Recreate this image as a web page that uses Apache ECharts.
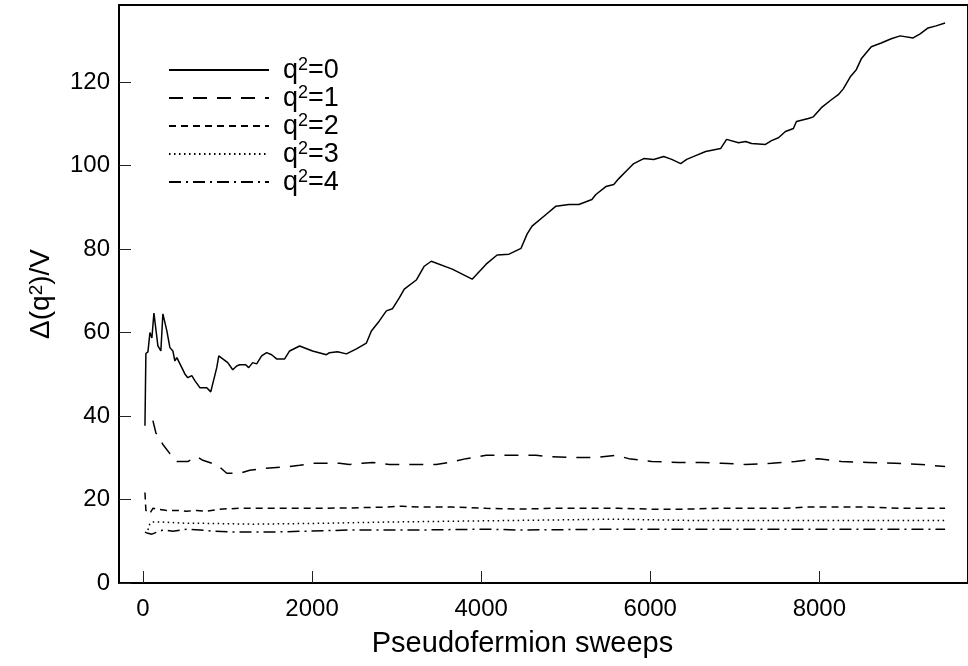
<!DOCTYPE html>
<html>
<head>
<meta charset="utf-8">
<script src="https://cdn.jsdelivr.net/npm/echarts@6/dist/echarts.min.js"></script>
<style>html,body{margin:0;padding:0;background:#fff}#c{width:968px;height:666px}</style>
</head>
<body>
<div id="c"></div>
<script>
const seriesNames = ['q²=0', 'q²=1', 'q²=2', 'q²=3', 'q²=4'];
const xTicks = [0, 2000, 4000, 6000, 8000];
const yTicks = [0, 20, 40, 60, 80, 100, 120];

const q0 = [[24,37.7],[35,55],[59,55.4],[83,60],[106,58.7],[130,64.7],[177,56.8],[212,55.6],[236,64.5],[283,60.4],[319,56.4],[354,55.6],[378,53.2],[401,54],[460,51.6],[496,50.1],[531,49.2],[578,49.7],[614,48.5],[673,46.8],[755,46.8],[802,45.8],[873,51.6],[897,54.4],[944,53.7],[1003,52.8],[1062,51.1],[1109,52],[1145,52.3],[1215,52.3],[1251,51.6],[1298,52.8],[1345,52.5],[1404,54.4],[1463,55.2],[1522,54.7],[1581,53.7],[1676,53.7],[1735,55.6],[1853,56.8],[2006,55.6],[2171,54.7],[2206,55.2],[2301,55.4],[2407,54.9],[2525,56.1],[2643,57.5],[2702,60.4],[2796,62.8],[2879,65.2],[2950,65.7],[3032,68.3],[3091,70.4],[3233,72.6],[3327,75.9],[3410,77.1],[3658,75.2],[3894,72.8],[4059,76.4],[4189,78.6],[4330,78.8],[4472,80.2],[4543,83.6],[4602,85.5],[4767,88.3],[4885,90.3],[5038,90.7],[5156,90.7],[5310,91.9],[5357,93.1],[5475,95],[5569,95.5],[5628,96.9],[5711,98.6],[5805,100.5],[5923,101.7],[6041,101.5],[6159,102.2],[6254,101.5],[6360,100.5],[6431,101.5],[6537,102.4],[6655,103.4],[6773,103.9],[6832,104.1],[6903,106.3],[7044,105.5],[7127,105.8],[7198,105.3],[7363,105.1],[7434,106],[7516,106.7],[7599,108.2],[7693,108.9],[7729,110.6],[7870,111.3],[7929,111.7],[8024,113.9],[8142,115.8],[8224,117],[8283,118.4],[8366,121.3],[8437,123],[8496,125.6],[8614,128.5],[8732,129.4],[8850,130.4],[8956,131.1],[9109,130.6],[9192,131.6],[9286,133],[9381,133.5],[9487,134.2]];

const q1 = [[118,38.9],[153,36],[236,33.2],[319,31],[401,29.1],[531,29.1],[637,30.3],[708,29.4],[885,28.2],[991,26.3],[1145,26.3],[1263,27],[1440,27.5],[1581,27.7],[1735,27.9],[1853,28.2],[2006,28.7],[2171,28.7],[2324,28.7],[2442,28.4],[2596,28.7],[2714,28.9],[2914,28.4],[3233,28.4],[3469,28.4],[3622,28.9],[3823,29.8],[4059,30.6],[4366,30.6],[4649,30.6],[4767,30.3],[5038,30.1],[5357,30.1],[5593,30.6],[5746,29.8],[6018,29.1],[6336,28.9],[6608,28.9],[6844,28.7],[7127,28.4],[7434,28.7],[7717,29.1],[7988,29.8],[8260,29.1],[8578,28.9],[8897,28.7],[9204,28.4],[9487,27.9]];

const q2 = [[24,21.7],[35,17.4],[83,16.7],[118,17.9],[177,17.7],[283,17.4],[401,17.4],[519,17.2],[637,17.4],[755,17.2],[909,17.7],[1145,17.9],[1499,17.9],[1817,17.9],[2088,17.9],[2478,18],[2879,18.2],[3068,18.4],[3268,18.2],[3658,18.2],[4059,17.9],[4448,17.7],[4838,17.9],[5239,17.9],[5628,17.9],[6018,17.7],[6419,17.7],[6808,17.9],[7198,17.9],[7599,17.9],[7870,18.2],[8189,18.2],[8578,18.2],[8968,17.9],[9487,17.9]];

const q3 = [[59,12.7],[83,14.3],[118,14.6],[236,14.6],[519,14.3],[708,14.3],[1298,14.1],[2088,14.3],[2879,14.6],[3658,14.8],[4448,15],[5593,15.3],[6419,15],[7599,15],[8378,15],[9487,15]];

const q4 = [[24,12.2],[59,11.9],[106,11.7],[165,12.2],[236,12.7],[354,12.4],[519,12.9],[673,12.7],[826,12.4],[1109,12.2],[1499,12.2],[1888,12.4],[2478,12.7],[3268,12.7],[4059,12.9],[4448,12.7],[5628,12.9],[6808,12.9],[7988,12.9],[9487,12.9]];

const dataSets = [q0, q1, q2, q3, q4];
const dashTypes = ['solid', [14, 10], [7, 5], [1.5, 3.5], [12, 5, 2, 5]];

const FONT = 'Liberation Sans, Arial, Helvetica, sans-serif';
const chart = echarts.init(document.getElementById('c'), null, {renderer: 'canvas'});

function supRich(big, small, lh, raise) {
  return {
    a: {fontSize: big, fontFamily: FONT, color: '#000', lineHeight: lh, verticalAlign: 'bottom'},
    s: {fontSize: small, fontFamily: FONT, color: '#000', lineHeight: small, verticalAlign: 'top', padding: [0, 0, raise, 0]}
  };
}

const option = {
  backgroundColor: '#ffffff',
  animation: false,
  textStyle: {fontFamily: FONT, color: '#000'},
  grid: {left: 119, right: -3, top: 5, bottom: 83, show: true, borderColor: '#000', borderWidth: 2, backgroundColor: 'transparent'},
  legend: {
    orient: 'vertical',
    left: 168,
    top: 56,
    itemWidth: 100,
    itemHeight: 14,
    itemGap: 0,
    padding: 0,
    data: seriesNames,
    itemStyle: {opacity: 0},
    formatter: function (n) {
      const parts = n.split('²');
      return '{a|' + parts[0] + '}{s|2}{a|' + parts[1] + '}';
    },
    textStyle: {
      fontFamily: FONT,
      color: '#000',
      padding: [0, 0, 0, 9],
      rich: supRich(27, 18, 28, 9)
    }
  },
  xAxis: {
    type: 'value',
    min: -283,
    max: 9758,
    name: 'Pseudofermion sweeps',
    nameLocation: 'middle',
    nameGap: 46,
    nameTextStyle: {fontSize: 29, fontFamily: FONT, color: '#000', padding: [0, 42, 0, 0]},
    splitLine: {show: false},
    axisLine: {show: true, onZero: false, lineStyle: {color: '#000', width: 2}},
    axisTick: {show: true, inside: true, length: 12, customValues: xTicks, lineStyle: {color: '#222', width: 1}},
    axisLabel: {customValues: xTicks, fontSize: 24, fontFamily: FONT, color: '#000', margin: 14,
      formatter: function (v) { return String(v); }}
  },
  yAxis: {
    type: 'value',
    min: 0,
    max: 138.5,
    name: '{a|Δ(q}{s|2}{a|)/V}',
    nameLocation: 'middle',
    nameGap: 64,
    nameRotate: 90,
    nameTextStyle: {
      fontFamily: FONT, color: '#000',
      rich: supRich(28, 19, 28, 9)
    },
    splitLine: {show: false},
    axisLine: {show: true, onZero: false, lineStyle: {color: '#000', width: 2}},
    axisTick: {show: true, inside: true, length: 12, customValues: yTicks, lineStyle: {color: '#222', width: 1}},
    axisLabel: {customValues: yTicks, fontSize: 24, fontFamily: FONT, color: '#000', margin: 9,
      formatter: function (v) { return String(v); }}
  },
  series: dataSets.map(function (d, i) {
    return {
      name: seriesNames[i],
      type: 'line',
      data: d,
      symbol: 'none',
      showSymbol: false,
      smooth: false,
      clip: true,
      lineStyle: {color: '#000', width: 1.5, type: dashTypes[i]},
      itemStyle: {color: '#000'}
    };
  })
};
chart.setOption(option);
</script>
</body>
</html>
